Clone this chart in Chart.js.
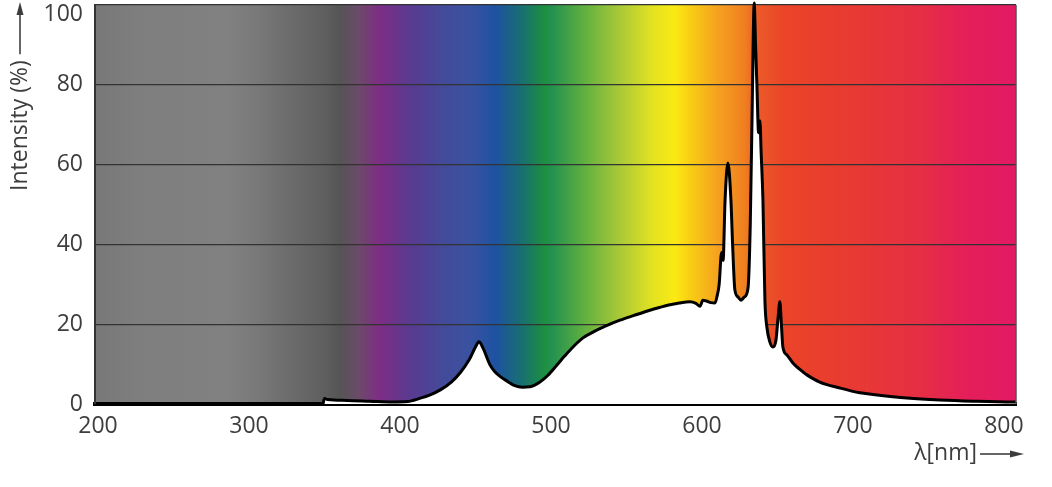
<!DOCTYPE html>
<html>
<head>
<meta charset="utf-8">
<script src="https://cdn.jsdelivr.net/npm/chart.js@4"></script>
<style>
  html, body { margin: 0; padding: 0; background: #fff; }
  #wrap { width: 1052px; height: 487px; position: relative; }
</style>
</head>
<body>
<div id="wrap"><canvas id="spectrumChart"></canvas></div>
<script>
// ── DATA ──
const wavelengths = [
  349, 350, 352, 365, 380, 395, 405, 413, 420, 427, 434, 440, 446, 450, 452.3, 455,
  459.6, 463, 466, 471.5, 476, 481, 486, 492.7, 498, 504, 509, 514.6, 521, 527.8,
  536, 545.7, 555, 565.5, 572, 578, 585, 592, 596, 598.7, 600.6, 603, 606, 608.6,
  610, 611.4, 613, 614, 615.3, 617.2, 619.2, 620.3, 621.8, 624, 625.8, 628, 630.5,
  632, 633.3, 634.6, 635.5, 636.4, 637.5, 638.4, 639.2, 640.4, 641.7, 643, 645,
  647, 649, 650.5, 651.6, 652.6, 653.6, 656.3, 660.2, 667, 669.5, 678, 691.4,
  704.6, 713, 735.8, 757.6, 779.5, 806, 808
];
const intensity = [
  0, 1.4, 1.1, 0.9, 0.7, 0.5, 0.6, 1.4, 2.3, 3.6, 5.5, 7.9, 11.2, 14.3, 15.6, 14,
  9.8, 8, 7, 5.6, 4.6, 4.2, 4.3, 5.5, 7.2, 9.8, 12, 14.3, 16.5, 18,
  19.5, 21, 22.2, 23.5, 24.2, 24.8, 25.3, 25.6, 25.2, 24.5, 26, 25.8, 25.4, 25.3,
  27, 30, 38, 36, 51, 60.4, 51, 40, 28.6, 26.8, 26, 26.8, 29,
  45, 75, 100.5, 90, 80, 68, 71, 63, 51, 26, 19.3, 15.5,
  14.3, 16, 22, 25.6, 20, 14.3, 12.3, 10.3, 8, 7.3, 5.5, 4,
  2.8, 2.4, 1.5, 1, 0.7, 0.5, 0.5
];
const xTicks = [200, 300, 400, 500, 600, 700, 800];
const yTicks = [0, 20, 40, 60, 80, 100];

// spectrum band behind the plot: [nm, colour]
const bandStops = [
  [198, '#787878'], [226, '#7e7e7e'], [285, '#818181'], [303, '#7a7a7a'],
  [351, '#5e5e5e'], [360, '#555555'], [373, '#6c4a6a'], [386, '#7e2d84'],
  [406, '#5a3a90'], [428, '#444a9a'], [446, '#3a52a0'], [463, '#1e52a2'],
  [481, '#187070'], [496, '#1d9040'], [500, '#229050'], [522, '#60b040'],
  [545, '#a8c838'], [567, '#e2e222'], [582, '#faea12'], [593, '#f8cc14'],
  [611, '#f5a020'], [628, '#f08020'], [637, '#ec5a28'], [655, '#ea4428'],
  [699, '#e83a32'], [744, '#e62e44'], [777, '#e41e5a'], [808, '#e21a64']
];

const FONT = '"Open Sans", "DejaVu Sans", sans-serif';
const TEXT = '#3d3d3d';

// ── PLUGINS ──
const spectrumBand = {
  id: 'spectrumBand',
  beforeDraw(chart) {
    const { ctx, chartArea: a, scales: { x } } = chart;
    const grad = ctx.createLinearGradient(a.left, 0, a.right, 0);
    bandStops.forEach(([nm, col]) => {
      const t = (x.getPixelForValue(nm) - a.left) / (a.right - a.left);
      grad.addColorStop(Math.min(1, Math.max(0, t)), col);
    });
    ctx.save();
    ctx.fillStyle = grad;
    ctx.fillRect(a.left, a.top, a.right - a.left, a.bottom - a.top);
    ctx.restore();
  }
};

const axisTitles = {
  id: 'axisTitles',
  afterDraw(chart) {
    const { ctx, chartArea: a } = chart;
    ctx.save();
    ctx.fillStyle = TEXT;
    ctx.lineWidth = 1.5;
    ctx.font = '23px ' + FONT;

    // right frame edge
    ctx.strokeStyle = '#555';
    ctx.beginPath();
    ctx.moveTo(a.right, a.top);
    ctx.lineTo(a.right, a.bottom);
    ctx.stroke();
    ctx.strokeStyle = '#333';

    // y title with arrow pointing up
    const yLabel = 'Intensity (%)';
    const yw = ctx.measureText(yLabel).width;
    const yx = 20, yBase = 191;
    ctx.save();
    ctx.translate(yx, yBase);
    ctx.rotate(-Math.PI / 2);
    ctx.textAlign = 'left';
    ctx.textBaseline = 'middle';
    ctx.fillText(yLabel, 0, 0);
    ctx.restore();
    const yTop = yBase - yw - 6;
    ctx.beginPath();
    ctx.moveTo(yx, yTop);
    ctx.lineTo(yx, 12);
    ctx.stroke();
    ctx.beginPath();
    ctx.moveTo(yx, 2);
    ctx.lineTo(yx - 3.5, 15);
    ctx.lineTo(yx + 3.5, 15);
    ctx.closePath();
    ctx.fill();

    // x title with arrow pointing right
    ctx.textAlign = 'right';
    ctx.textBaseline = 'middle';
    ctx.fillText('λ[nm]', 977, 453);
    ctx.beginPath();
    ctx.moveTo(980, 454);
    ctx.lineTo(1012, 454);
    ctx.stroke();
    ctx.beginPath();
    ctx.moveTo(1024, 454);
    ctx.lineTo(1010, 450.5);
    ctx.lineTo(1010, 457.5);
    ctx.closePath();
    ctx.fill();
    ctx.restore();
  }
};

// ── CHART ──
const ctx = document.getElementById('spectrumChart').getContext('2d');

new Chart(ctx, {
  type: 'line',
  data: {
    datasets: [{
      data: wavelengths.map((w, i) => ({ x: w, y: intensity[i] })),
      borderColor: '#000',
      borderWidth: 3,
      backgroundColor: '#fff',
      fill: 'origin',
      pointRadius: 0,
      cubicInterpolationMode: 'monotone',
      clip: false
    }]
  },
  options: {
    responsive: true,
    maintainAspectRatio: false,
    animation: false,
    layout: { padding: { left: 0, top: 5, right: 36, bottom: 0 } },
    plugins: {
      legend: { display: false },
      tooltip: { enabled: false }
    },
    scales: {
      x: {
        type: 'linear',
        min: 198,
        max: 808,
        afterBuildTicks: s => { s.ticks = xTicks.map(v => ({ value: v })); },
        afterFit: s => { s.height = 83; },
        grid: { display: false, drawTicks: false },
        border: { display: true, color: '#000', width: 4 },
        ticks: {
          padding: 9,
          color: TEXT,
          font: { family: FONT, size: 23 },
          maxRotation: 0
        }
      },
      y: {
        min: 0,
        max: 100,
        afterBuildTicks: s => { s.ticks = yTicks.map(v => ({ value: v })); },
        afterFit: s => { s.width = 95; s.paddingTop = 0; },
        grid: { color: '#333', lineWidth: 1.2, drawTicks: false },
        border: { display: true, color: '#333', width: 2 },
        ticks: {
          padding: 12,
          color: TEXT,
          // top label sits a little lower so it stays inside the picture
          callback: v => v === 100 ? ['', '100'] : String(v),
          font: c => ({
            family: FONT,
            size: 23,
            lineHeight: c.tick && c.tick.value === 100 ? 0.8 : 1.2
          })
        }
      }
    }
  },
  plugins: [spectrumBand, axisTitles]
});
</script>
</body>
</html>
